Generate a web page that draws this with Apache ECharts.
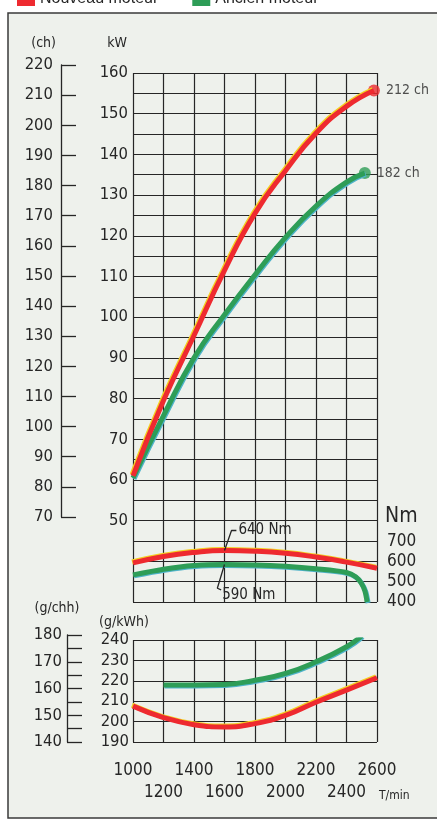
<!DOCTYPE html>
<html>
<head>
<meta charset="utf-8">
<script src="https://cdn.jsdelivr.net/npm/echarts@6/dist/echarts.min.js"></script>
<style>
  html, body { margin: 0; padding: 0; background: #fff; }
  #chart { width: 437px; height: 825px; }
</style>
</head>
<body>
<div id="chart"></div>
<script>
// courbes moteur : puissance, couple, consommation
const FONT = "'DejaVu Sans Condensed', 'Liberation Sans', sans-serif";
const RED = '#ee2a30';
const GREEN = '#2e9d57';
const INK = '#262626';
const TICK_SIZE = 16.5;

// puissance (kW)
const rpmPowerNew = [1000, 1200, 1400, 1600, 1800, 2000, 2200, 2400, 2580];
const kwNew = [61, 79.5, 95.5, 111.5, 125.5, 136, 145.2, 151.8, 155.7];
const rpmPowerOld = [1000, 1200, 1400, 1600, 1800, 2000, 2200, 2400, 2520];
const kwOld = [60.5, 75.8, 90, 100.6, 110.4, 119.6, 127.3, 133.2, 135.4];

// couple (Nm)
const rpmTorqueNew = [1000, 1200, 1400, 1600, 1800, 2000, 2200, 2400, 2600];
const nmNew = [593, 625, 645, 654, 651, 641, 622, 597, 567];
const rpmTorqueOld = [1000, 1200, 1400, 1600, 1800, 2000, 2200, 2400, 2460, 2495, 2520, 2535];
const nmOld = [534, 562, 580, 585, 583, 576, 564, 546, 525, 495, 455, 400];

// consommation (g/kWh)
const rpmFuelNew = [1000, 1200, 1400, 1600, 1800, 2000, 2200, 2400, 2600];
const gNew = [207.6, 202, 198.5, 197.4, 199, 203, 209.5, 215.4, 221.5];
const rpmFuelOld = [1200, 1400, 1600, 1800, 2000, 2200, 2400, 2500];
const gOld = [218, 218, 218.2, 220.3, 223.6, 229.3, 236.7, 242];

// repères des annotations de couple
const leader640 = [[1600, 654], [1646, 753], [1678, 753]];
const leader590 = [[1600, 585], [1553, 468], [1578, 460]];

const endLabels = ['212 ch', '182 ch'];

const zip = (xs, ys) => xs.map((x, i) => [x, ys[i]]);
const isUpperRow = v => ((v - 1000) / 200) % 2 === 0;

const gridLine = { show: true, lineStyle: { color: INK, width: 1.2 } };

const chart = echarts.init(document.getElementById('chart'));
chart.setOption({
  backgroundColor: '#ffffff',
  animation: false,
  textStyle: { fontFamily: FONT },
  graphic: [{
    type: 'rect',
    z: -10,
    shape: { x: 8, y: 13, width: 440, height: 805 },
    style: { fill: '#eef1ec', stroke: '#3a3a3a', lineWidth: 1.5 }
  }],
  legend: {
    top: -14, left: 12,
    itemWidth: 18, itemHeight: 14, itemGap: 34,
    textStyle: { fontFamily: "'Liberation Sans', sans-serif", fontSize: 16, color: INK },
    data: [
      { name: 'Nouveau moteur', icon: 'rect' },
      { name: 'Ancien moteur', icon: 'rect' }
    ]
  },
  grid: [
    { left: 133, top: 73, width: 244, height: 529 },   // puissance
    { left: 133, top: 521, width: 244, height: 81 },   // couple
    { left: 61, top: 65, width: 1, height: 452 },      // échelle ch
    { left: 133, top: 640, width: 244, height: 102 },  // consommation
    { left: 67, top: 635, width: 1, height: 107 }      // échelle g/chh
  ],
  xAxis: [
    { gridIndex: 0, type: 'value', min: 1000, max: 2600, interval: 200,
      axisLine: { show: false }, axisTick: { show: false }, axisLabel: { show: false },
      splitLine: gridLine },
    { gridIndex: 1, type: 'value', min: 1000, max: 2600, show: false },
    { gridIndex: 2, type: 'value', show: false },
    // régime : rangée du haut (1000, 1400, ...)
    { gridIndex: 3, type: 'value', position: 'bottom', min: 1000, max: 2600, interval: 200,
      axisLine: { show: false }, axisTick: { show: false },
      axisLabel: {
        color: INK, fontSize: 17, margin: 20,
        showMinLabel: true, showMaxLabel: true,
        formatter: v => isUpperRow(v) ? String(v) : ''
      },
      splitLine: gridLine,
      name: 'T/min', nameLocation: 'end', nameGap: 2,
      nameTextStyle: { color: INK, fontSize: 12, verticalAlign: 'top', padding: [48, 0, 0, 0] } },
    { gridIndex: 4, type: 'value', show: false },
    // régime : rangée du bas (1200, 1600, ...)
    { gridIndex: 3, type: 'value', position: 'bottom', offset: 0, min: 1000, max: 2600, interval: 200,
      axisLine: { show: false }, axisTick: { show: false }, splitLine: { show: false },
      axisLabel: {
        color: INK, fontSize: 17, margin: 42,
        showMinLabel: false, showMaxLabel: false,
        formatter: v => isUpperRow(v) ? '' : String(v)
      } }
  ],
  yAxis: [
    { gridIndex: 0, type: 'value', min: 30, max: 160, interval: 5,
      axisLine: { show: false }, axisTick: { show: false },
      axisLabel: { color: INK, fontSize: TICK_SIZE, margin: 5, showMaxLabel: true,
        formatter: v => (v >= 50 && v % 10 === 0) ? String(v) : '' },
      splitLine: gridLine,
      name: 'kW', nameLocation: 'end', nameGap: 30,
      nameTextStyle: { color: INK, fontSize: 14, align: 'right', verticalAlign: 'middle', padding: [0, 6, 0, 0] } },
    { gridIndex: 1, type: 'value', position: 'right', min: 400, max: 800, interval: 100,
      axisLine: { show: false }, axisTick: { show: false }, splitLine: { show: false },
      axisLabel: { color: INK, fontSize: TICK_SIZE + 0.5, margin: 10, showMinLabel: true,
        formatter: v => v < 800 ? String(v) : '' },
      name: 'Nm', nameLocation: 'end', nameGap: 4,
      nameTextStyle: { color: INK, fontSize: 21, align: 'left', verticalAlign: 'middle', padding: [0, 0, 0, 8] } },
    { gridIndex: 2, type: 'value', min: 70, max: 220, interval: 10,
      axisLine: { show: true, lineStyle: { color: INK, width: 1.3 } },
      axisTick: { show: true, inside: true, length: 15, lineStyle: { color: INK, width: 1.3 } },
      axisLabel: { color: INK, fontSize: TICK_SIZE, margin: 8, showMinLabel: true, showMaxLabel: true },
      splitLine: { show: false },
      name: '(ch)', nameLocation: 'end', nameGap: 22,
      nameTextStyle: { color: INK, fontSize: 14, align: 'right', verticalAlign: 'middle', padding: [0, 5, 0, 0] } },
    { gridIndex: 3, type: 'value', min: 190, max: 240, interval: 10,
      axisLine: { show: false }, axisTick: { show: false },
      axisLabel: { color: INK, fontSize: TICK_SIZE, margin: 4, showMinLabel: true, showMaxLabel: true },
      splitLine: gridLine,
      name: '(g/kWh)', nameLocation: 'end', nameGap: 18,
      nameTextStyle: { color: INK, fontSize: 14, align: 'center', verticalAlign: 'middle', padding: [0, 18, 0, 0] } },
    { gridIndex: 4, type: 'value', min: 140, max: 180, interval: 5,
      axisLine: { show: true, lineStyle: { color: INK, width: 1.3 } },
      axisTick: { show: true, inside: true, length: 15, lineStyle: { color: INK, width: 1.3 } },
      axisLabel: { color: INK, fontSize: TICK_SIZE, margin: 5, showMinLabel: true, showMaxLabel: true,
        formatter: v => v % 10 === 0 ? String(v) : '' },
      splitLine: { show: false },
      name: '(g/chh)', nameLocation: 'end', nameGap: 27,
      nameTextStyle: { color: INK, fontSize: 14, align: 'center', verticalAlign: 'middle', padding: [0, 20, 0, 0] } }
  ],
  series: [
    // puissance
    { name: 'Ancien moteur', type: 'line', xAxisIndex: 0, yAxisIndex: 0, smooth: true, symbol: 'none', color: GREEN,
      lineStyle: { width: 5, color: GREEN, shadowColor: '#4fb3c9', shadowOffsetX: 1, shadowOffsetY: 1 },
      data: zip(rpmPowerOld, kwOld) },
    { name: 'Nouveau moteur', type: 'line', xAxisIndex: 0, yAxisIndex: 0, smooth: true, symbol: 'none', color: RED,
      lineStyle: { width: 5, color: RED, shadowColor: '#f4cf22', shadowOffsetX: -1, shadowOffsetY: -1 },
      data: zip(rpmPowerNew, kwNew) },
    { type: 'scatter', xAxisIndex: 0, yAxisIndex: 0, symbolSize: 12,
      label: { show: true, position: 'right', distance: 6, color: INK, fontSize: 14,
        formatter: p => endLabels[p.dataIndex] },
      data: [
        { value: [rpmPowerNew[rpmPowerNew.length - 1], kwNew[kwNew.length - 1]], itemStyle: { color: RED } },
        { value: [rpmPowerOld[rpmPowerOld.length - 1], kwOld[kwOld.length - 1]], itemStyle: { color: GREEN } }
      ] },
    // couple
    { name: 'Ancien moteur', type: 'line', xAxisIndex: 1, yAxisIndex: 1, smooth: 0.3, symbol: 'none', color: GREEN,
      lineStyle: { width: 5, color: GREEN, shadowColor: '#4fb3c9', shadowOffsetX: 1, shadowOffsetY: 1 },
      data: zip(rpmTorqueOld, nmOld) },
    { name: 'Nouveau moteur', type: 'line', xAxisIndex: 1, yAxisIndex: 1, smooth: true, symbol: 'none', color: RED,
      lineStyle: { width: 5, color: RED, shadowColor: '#f4cf22', shadowOffsetX: -1, shadowOffsetY: -1 },
      data: zip(rpmTorqueNew, nmNew) },
    { type: 'line', xAxisIndex: 1, yAxisIndex: 1, symbol: 'none', z: 5,
      lineStyle: { width: 1.3, color: INK },
      endLabel: { show: true, formatter: '640 Nm', color: INK, fontSize: 15, distance: 2 },
      data: leader640 },
    { type: 'line', xAxisIndex: 1, yAxisIndex: 1, symbol: 'none', z: 5,
      lineStyle: { width: 1.3, color: INK },
      endLabel: { show: true, formatter: '590 Nm', color: INK, fontSize: 15, distance: 1, offset: [0, 5] },
      data: leader590 },
    // consommation
    { name: 'Ancien moteur', type: 'line', xAxisIndex: 3, yAxisIndex: 3, smooth: true, symbol: 'none', color: GREEN,
      lineStyle: { width: 5, color: GREEN, shadowColor: '#4fb3c9', shadowOffsetX: 1, shadowOffsetY: 1 },
      data: zip(rpmFuelOld, gOld) },
    { name: 'Nouveau moteur', type: 'line', xAxisIndex: 3, yAxisIndex: 3, smooth: true, symbol: 'none', color: RED,
      lineStyle: { width: 5, color: RED, shadowColor: '#f4cf22', shadowOffsetX: -1, shadowOffsetY: -1 },
      data: zip(rpmFuelNew, gNew) }
  ]
});
</script>
</body>
</html>
